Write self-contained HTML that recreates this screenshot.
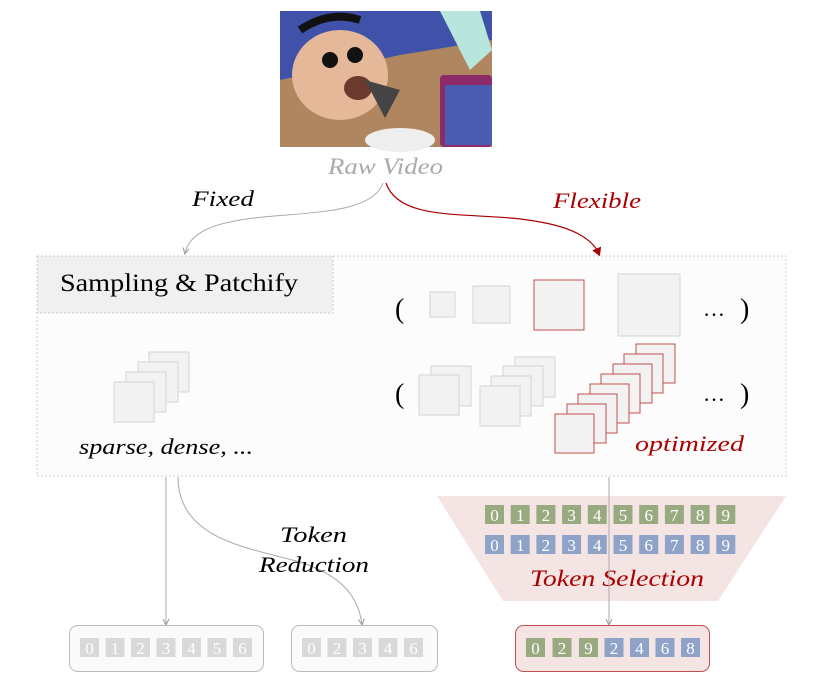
<!DOCTYPE html>
<html><head><style>body{margin:0;background:#fff}svg{display:block}</style></head><body>
<svg width="816" height="695" viewBox="0 0 816 695" xmlns="http://www.w3.org/2000/svg" font-family="'Liberation Serif',serif">
<defs>
<marker id="ag" markerWidth="8" markerHeight="8" refX="5" refY="4" orient="auto"><path d="M0,1 L6,4 L0,7" fill="none" stroke="#999" stroke-width="1"/></marker>
<marker id="ar" markerWidth="8" markerHeight="8" refX="5" refY="4" orient="auto"><path d="M0,0 L7,4 L0,8 z" fill="#a00"/></marker>
</defs>
<!-- image -->
<rect x="280" y="11" width="212" height="136" fill="#3f51a8"/>
<polygon points="280,80 400,55 492,40 492,147 280,147" fill="#b08660"/>
<polygon points="440,11 480,11 492,50 470,70" fill="#b9e6dc"/>
<ellipse cx="340" cy="75" rx="48" ry="45" fill="#e4b898"/>
<path d="M300,30 Q330,10 360,20" stroke="#111" stroke-width="8" fill="none"/>
<circle cx="330" cy="60" r="8" fill="#111"/><circle cx="355" cy="55" r="8" fill="#111"/>
<ellipse cx="358" cy="88" rx="14" ry="12" fill="#6b3a2f"/>
<polygon points="365,80 400,90 385,118" fill="#444"/>
<rect x="440" y="75" width="52" height="72" rx="4" fill="#8c2a6a"/>
<rect x="445" y="85" width="47" height="60" fill="#4a5db0"/>
<ellipse cx="400" cy="140" rx="35" ry="12" fill="#eee"/>
<text x="328" y="174" font-size="23" font-style="italic" fill="#aaa" textLength="115" lengthAdjust="spacingAndGlyphs">Raw Video</text>
<!-- top arrows -->
<path d="M383,183 C370,220 280,210 230,222 C200,228 188,240 185,253" fill="none" stroke="#aaa" stroke-width="1" marker-end="url(#ag)"/>
<path d="M386,183 C400,225 480,210 540,222 C575,228 593,240 599,254" fill="none" stroke="#a00" stroke-width="1.2" marker-end="url(#ar)"/>
<text x="192" y="206" font-size="22" font-style="italic" textLength="62" lengthAdjust="spacingAndGlyphs">Fixed</text>
<text x="553" y="208" font-size="22" font-style="italic" fill="#a00" textLength="88" lengthAdjust="spacingAndGlyphs">Flexible</text>
<!-- main box -->
<rect x="37" y="256" width="749" height="220" fill="#fcfcfc" stroke="#ccc" stroke-dasharray="2,2"/>
<rect x="37" y="256" width="296" height="57" fill="#f0f0f0" stroke="#ccc" stroke-dasharray="2,2"/>
<text x="60" y="291" font-size="25" textLength="238" lengthAdjust="spacingAndGlyphs">Sampling &amp; Patchify</text>
<g fill="#f2f2f2" stroke="#d4d4d4">
<rect x="149" y="352" width="40" height="40"/><rect x="138" y="362" width="40" height="40"/><rect x="126" y="372" width="40" height="40"/><rect x="114" y="382" width="40" height="40"/>
</g>
<text x="79" y="454" font-size="22" font-style="italic" textLength="174" lengthAdjust="spacingAndGlyphs">sparse, dense, ...</text>
<!-- right rows -->
<text x="395" y="318" font-size="28">(</text><text x="740" y="318" font-size="28">)</text>
<text x="703" y="316" font-size="22">…</text>
<text x="395" y="403" font-size="28">(</text><text x="740" y="403" font-size="28">)</text>
<text x="703" y="401" font-size="22">…</text>
<g fill="#f2f2f2" stroke="#d4d4d4">
<rect x="430" y="292" width="25" height="25"/><rect x="473" y="286" width="37" height="37"/>
<rect x="618" y="274" width="62" height="62"/>
<rect x="431" y="366" width="40" height="40"/><rect x="419" y="375" width="40" height="40"/>
<rect x="515" y="357" width="40" height="40"/><rect x="503" y="366" width="40" height="40"/><rect x="491" y="376" width="40" height="40"/><rect x="480" y="386" width="40" height="40"/>
</g>
<rect x="534" y="280" width="50" height="50" fill="#f2f2f2" stroke="#c0504d"/>
<g fill="#f2f2f2" stroke="#c0504d">
<rect x="636" y="344" width="39" height="39"/><rect x="624" y="354" width="39" height="39"/><rect x="613" y="364" width="39" height="39"/><rect x="601" y="374" width="39" height="39"/><rect x="590" y="384" width="39" height="39"/><rect x="578" y="394" width="39" height="39"/><rect x="567" y="404" width="39" height="39"/><rect x="555" y="414" width="39" height="39"/>
</g>
<text x="635" y="451" font-size="22" font-style="italic" fill="#a00" textLength="109" lengthAdjust="spacingAndGlyphs">optimized</text>
<!-- trapezoid -->
<polygon points="437,496 786,496 718,601 503,601" fill="#f5e4e4"/>
<g font-size="17" fill="#fff" text-anchor="middle">
<rect x="485" y="505" width="19" height="19" fill="#9aaa80"/><rect x="510.7" y="505" width="19" height="19" fill="#9aaa80"/><rect x="536.4" y="505" width="19" height="19" fill="#9aaa80"/><rect x="562.1" y="505" width="19" height="19" fill="#9aaa80"/><rect x="587.8" y="505" width="19" height="19" fill="#9aaa80"/><rect x="613.5" y="505" width="19" height="19" fill="#9aaa80"/><rect x="639.2" y="505" width="19" height="19" fill="#9aaa80"/><rect x="664.9" y="505" width="19" height="19" fill="#9aaa80"/><rect x="690.6" y="505" width="19" height="19" fill="#9aaa80"/><rect x="716.3" y="505" width="19" height="19" fill="#9aaa80"/>
<text x="494.5" y="521">0</text><text x="520.2" y="521">1</text><text x="545.9" y="521">2</text><text x="571.6" y="521">3</text><text x="597.3" y="521">4</text><text x="623" y="521">5</text><text x="648.7" y="521">6</text><text x="674.4" y="521">7</text><text x="700.1" y="521">8</text><text x="725.8" y="521">9</text>
<rect x="485" y="535" width="19" height="19" fill="#8fa3c8"/><rect x="510.7" y="535" width="19" height="19" fill="#8fa3c8"/><rect x="536.4" y="535" width="19" height="19" fill="#8fa3c8"/><rect x="562.1" y="535" width="19" height="19" fill="#8fa3c8"/><rect x="587.8" y="535" width="19" height="19" fill="#8fa3c8"/><rect x="613.5" y="535" width="19" height="19" fill="#8fa3c8"/><rect x="639.2" y="535" width="19" height="19" fill="#8fa3c8"/><rect x="664.9" y="535" width="19" height="19" fill="#8fa3c8"/><rect x="690.6" y="535" width="19" height="19" fill="#8fa3c8"/><rect x="716.3" y="535" width="19" height="19" fill="#8fa3c8"/>
<text x="494.5" y="551">0</text><text x="520.2" y="551">1</text><text x="545.9" y="551">2</text><text x="571.6" y="551">3</text><text x="597.3" y="551">4</text><text x="623" y="551">5</text><text x="648.7" y="551">6</text><text x="674.4" y="551">7</text><text x="700.1" y="551">8</text><text x="725.8" y="551">9</text>
</g>
<text x="530" y="586" font-size="23" font-style="italic" fill="#a00" textLength="174" lengthAdjust="spacingAndGlyphs">Token Selection</text>
<!-- lower connectors -->
<line x1="166" y1="477" x2="166" y2="624" stroke="#aaa" marker-end="url(#ag)"/>
<path d="M178,477 C178,540 250,548 300,562 C340,575 358,595 362,624" fill="none" stroke="#aaa" marker-end="url(#ag)"/>
<line x1="609" y1="477" x2="609" y2="624" stroke="#aaa" marker-end="url(#ag)"/>
<text x="280" y="542" font-size="22" font-style="italic" textLength="67" lengthAdjust="spacingAndGlyphs">Token</text>
<text x="259" y="572" font-size="22" font-style="italic" textLength="110" lengthAdjust="spacingAndGlyphs">Reduction</text>
<!-- bottom boxes -->
<rect x="69.5" y="625.5" width="194" height="46" rx="8" fill="#fafafa" stroke="#bbb"/>
<rect x="291.5" y="625.5" width="146" height="46" rx="8" fill="#fafafa" stroke="#bbb"/>
<rect x="515.5" y="625.5" width="194" height="46" rx="8" fill="#f5e4e4" stroke="#c0504d"/>
<g font-size="17" fill="#fff" text-anchor="middle">
<g fill="#d9d9d9"><rect x="80" y="638" width="19" height="19"/><rect x="105.5" y="638" width="19" height="19"/><rect x="131" y="638" width="19" height="19"/><rect x="156.5" y="638" width="19" height="19"/><rect x="182" y="638" width="19" height="19"/><rect x="207.5" y="638" width="19" height="19"/><rect x="233" y="638" width="19" height="19"/>
<rect x="302" y="638" width="19" height="19"/><rect x="327.5" y="638" width="19" height="19"/><rect x="353" y="638" width="19" height="19"/><rect x="378.5" y="638" width="19" height="19"/><rect x="404" y="638" width="19" height="19"/></g>
<text x="89.5" y="654">0</text><text x="115" y="654">1</text><text x="140.5" y="654">2</text><text x="166" y="654">3</text><text x="191.5" y="654">4</text><text x="217" y="654">5</text><text x="242.5" y="654">6</text>
<text x="311.5" y="654">0</text><text x="337" y="654">2</text><text x="362.5" y="654">3</text><text x="388" y="654">4</text><text x="413.5" y="654">6</text>
<rect x="526" y="638" width="19" height="19" fill="#9aaa80"/><rect x="552.5" y="638" width="19" height="19" fill="#9aaa80"/><rect x="579" y="638" width="19" height="19" fill="#9aaa80"/>
<rect x="604.5" y="638" width="19" height="19" fill="#8fa3c8"/><rect x="630" y="638" width="19" height="19" fill="#8fa3c8"/><rect x="655.5" y="638" width="19" height="19" fill="#8fa3c8"/><rect x="681" y="638" width="19" height="19" fill="#8fa3c8"/>
<text x="535.5" y="654">0</text><text x="562" y="654">2</text><text x="588.5" y="654">9</text><text x="614" y="654">2</text><text x="639.5" y="654">4</text><text x="665" y="654">6</text><text x="690.5" y="654">8</text>
</g>
</svg>
</body></html>
